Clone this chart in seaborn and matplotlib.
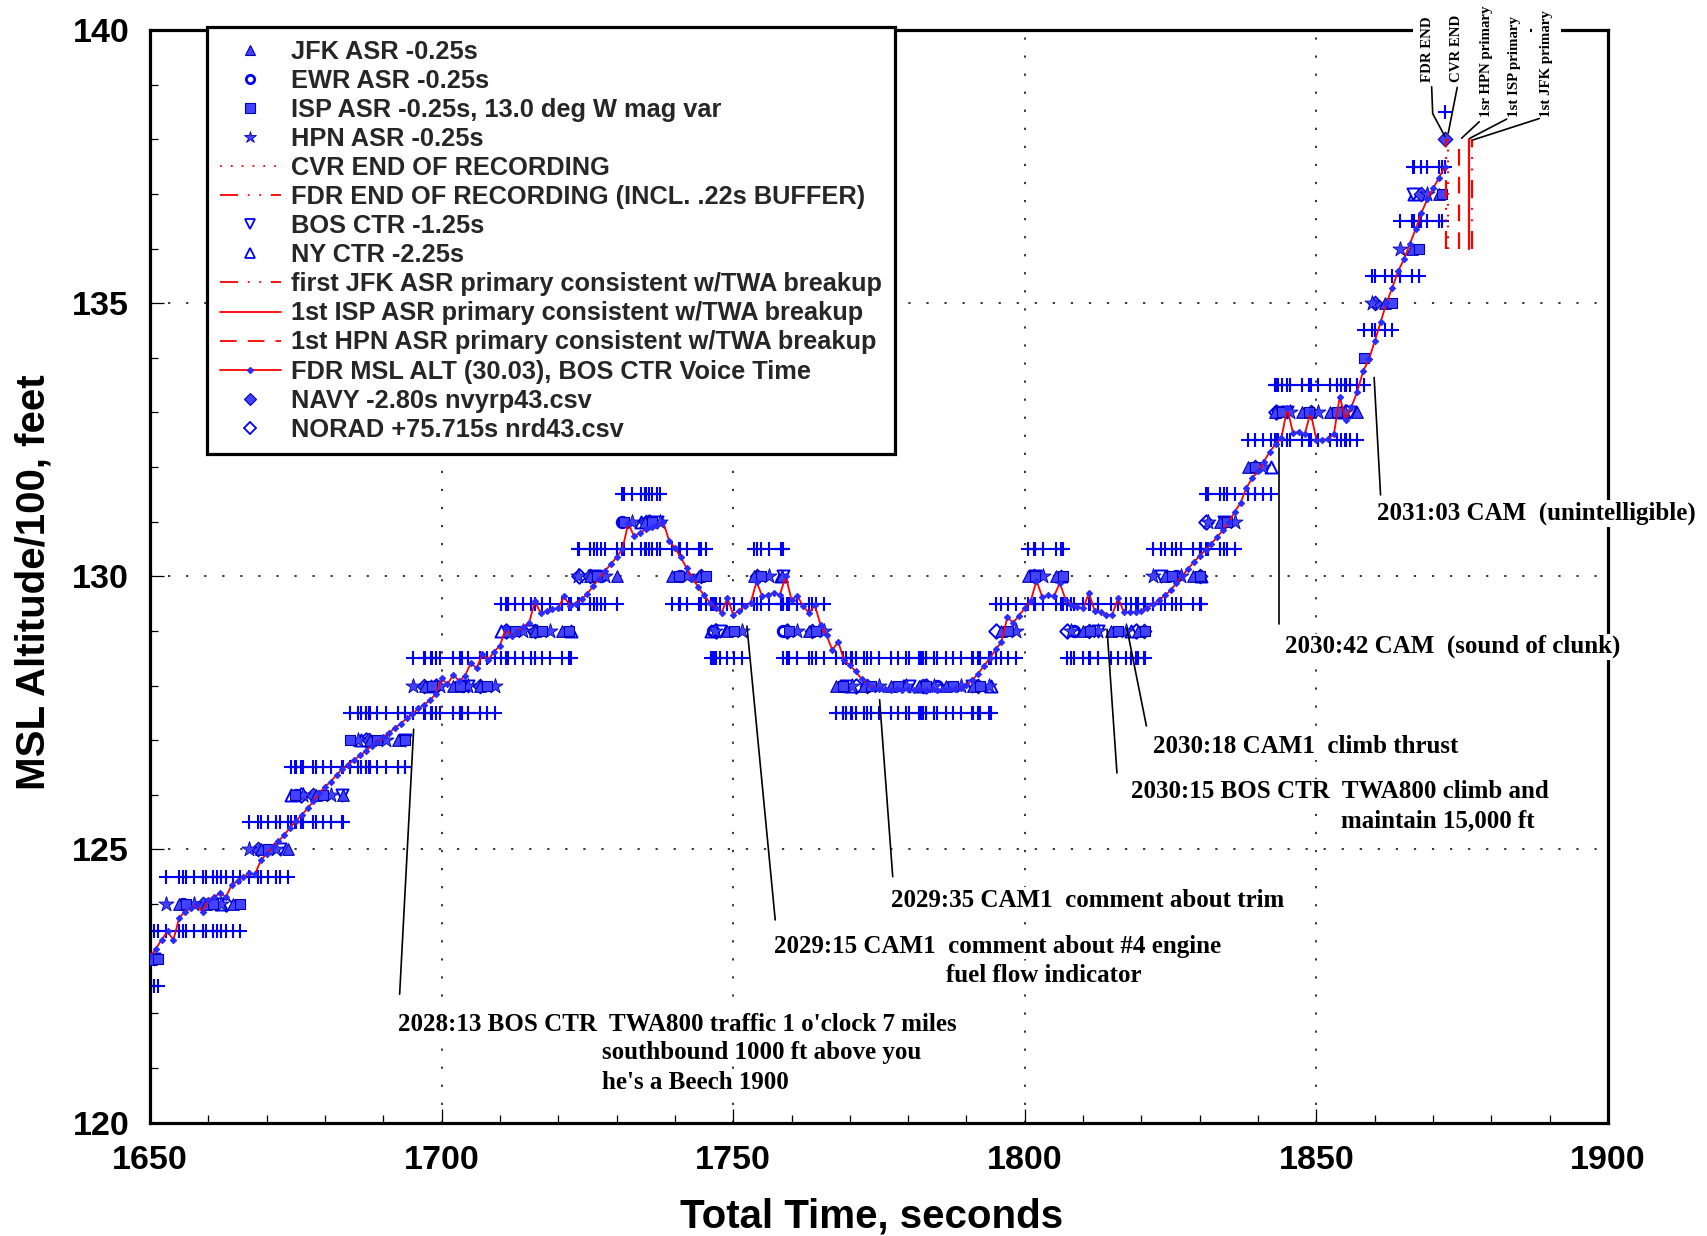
import numpy as np
import pandas as pd
import matplotlib
matplotlib.use("Agg")
import matplotlib.pyplot as plt
from matplotlib.lines import Line2D
from matplotlib.ticker import MultipleLocator
import seaborn as sns

# ---------------------------------------------------------------------------
# FDR MSL altitude (hundreds of feet), one sample per second starting at 1650 s
# ---------------------------------------------------------------------------
fdr_t0 = 1650
fdr_alt = [
    123.04, 123.18, 123.35, 123.50, 123.34, 123.75, 123.86, 123.93, 124.00, 123.85,
    124.08, 124.13, 124.20, 124.13, 124.35, 124.42, 124.50, 124.56, 124.55, 124.80,
    124.92, 125.04, 125.15, 125.26, 125.40, 125.52, 125.63, 125.75, 125.88, 126.03,
    126.15, 126.24, 126.37, 126.47, 126.55, 126.64, 126.72, 126.80, 126.90, 126.97,
    127.05, 127.13, 127.23, 127.30, 127.40, 127.48, 127.58, 127.65, 127.73, 127.85,
    128.13, 128.02, 128.20, 128.08, 128.18, 128.41, 128.32, 128.58, 128.47, 128.62,
    128.73, 129.05, 128.90, 128.98, 129.08, 129.15, 129.54, 129.32, 129.37, 129.40,
    129.42, 129.63, 129.46, 129.50, 129.58, 129.68, 129.83, 129.95, 130.10, 130.22,
    130.35, 130.50, 130.97, 130.73, 130.80, 130.86, 130.90, 130.93, 131.00, 130.65,
    130.52, 130.35, 130.15, 129.97, 129.80, 129.65, 129.52, 129.42, 129.33, 129.60,
    129.30, 129.37, 129.45, 129.52, 129.90, 129.63, 129.66, 129.70, 129.66, 130.00,
    129.57, 129.64, 129.45, 129.33, 129.47, 129.10, 128.92, 128.65, 128.80, 128.47,
    128.37, 128.26, 128.12, 128.02, 127.96, 127.94, 127.93, 127.92, 127.93, 127.92,
    127.93, 127.92, 127.93, 127.92, 127.93, 127.92, 127.93, 127.93, 127.94, 127.96,
    128.01, 128.10, 128.22, 128.36, 128.50, 128.66, 128.80, 129.25, 129.15, 129.28,
    129.42, 129.54, 129.92, 129.62, 129.65, 129.63, 129.88, 129.57, 129.48, 129.44,
    129.42, 129.69, 129.36, 129.34, 129.29, 129.30, 129.60, 129.34, 129.34, 129.34,
    129.36, 129.42, 129.49, 129.56, 129.65, 129.74, 129.88, 130.01, 130.14, 130.26,
    130.38, 130.48, 130.60, 130.72, 130.85, 131.00, 131.18, 131.35, 131.62, 131.80,
    131.93, 132.10, 132.28, 132.42, 132.53, 133.08, 132.62, 132.65, 132.60, 133.00,
    132.50, 132.50, 132.51, 132.60, 133.29, 132.87, 133.10, 133.38, 133.75, 133.97,
    134.30, 134.65, 135.00, 135.28, 135.58, 135.80, 136.08, 136.35, 136.65, 136.90,
    137.10, 137.29, 137.50,
]
fdr_time = np.arange(fdr_t0, fdr_t0 + len(fdr_alt))

# ---------------------------------------------------------------------------
# Radar Mode C returns: time (s) and reported altitude (hundreds of feet)
# ---------------------------------------------------------------------------
jfk_t = [1650.2, 1654.9, 1659.6, 1664.3, 1669.0, 1673.7, 1678.4, 1683.1, 1687.8, 1692.5,
         1697.2, 1701.9, 1706.6, 1711.3, 1716.0, 1720.7, 1725.4, 1730.1, 1734.8, 1739.5,
         1744.2, 1748.9, 1753.6, 1758.3, 1763.0, 1767.7, 1772.4, 1777.1, 1781.8, 1786.5,
         1791.2, 1795.9, 1800.6, 1805.3, 1810.0, 1814.7, 1819.4, 1824.1, 1828.8, 1833.5,
         1838.2, 1842.9, 1847.6, 1852.3, 1857.0, 1861.7, 1866.4, 1871.1]
jfk_alt = [123, 124, 124, 124, 125, 125, 126, 126, 127, 127,
           128, 128, 128, 129, 129, 129, 130, 130, 131, 130,
           130, 129, 130, 130, 129, 128, 128, 128, 128, 128,
           128, 129, 130, 130, 129, 129, 129, 130, 130, 131,
           132, 133, 133, 133, 133, 135, 136, 137]

ewr_t = [1655.7, 1675.0, 1703.5, 1727.4, 1731.0, 1740.9, 1746.6, 1758.6, 1768.9, 1785.0,
         1808.5, 1826.0, 1843.5]
ewr_alt = [124, 126, 128, 130, 131, 130, 129, 129, 128, 128,
           129, 130, 133]

isp_t = [1651.4, 1656.1, 1660.8, 1665.5, 1670.2, 1674.9, 1679.6, 1684.3, 1689.0, 1693.7,
         1698.4, 1703.1, 1707.8, 1712.5, 1717.2, 1721.9, 1726.6, 1731.3, 1736.0, 1740.7,
         1745.4, 1750.1, 1754.8, 1759.5, 1764.2, 1768.9, 1773.6, 1778.3, 1783.0, 1787.7,
         1792.4, 1797.1, 1801.8, 1806.5, 1811.2, 1815.9, 1820.6, 1825.3, 1830.0, 1834.7,
         1839.4, 1844.1, 1848.8, 1853.5, 1858.2, 1862.9, 1867.6, 1871.6]
isp_alt = [123, 124, 124, 124, 125, 126, 126, 127, 127, 127,
           128, 128, 128, 129, 129, 129, 130, 131, 131, 130,
           130, 129, 130, 129, 129, 128, 128, 128, 128, 128,
           128, 129, 130, 130, 129, 129, 129, 130, 130, 131,
           132, 133, 133, 133, 134, 135, 136, 137]

hpn_t = [1652.8, 1657.5, 1662.2, 1666.9, 1671.6, 1676.3, 1681.0, 1685.7, 1690.4, 1695.1,
         1699.8, 1704.5, 1709.2, 1713.9, 1718.6, 1723.3, 1728.0, 1732.7, 1737.4, 1742.1,
         1746.8, 1751.5, 1756.2, 1760.9, 1765.6, 1770.3, 1775.0, 1779.7, 1784.4, 1789.1,
         1793.8, 1798.5, 1803.2, 1807.9, 1812.6, 1817.3, 1822.0, 1826.7, 1831.4, 1836.1,
         1840.8, 1845.5, 1850.2, 1854.9, 1859.6, 1864.3, 1869.0]
hpn_alt = [124, 124, 124, 125, 125, 126, 126, 127, 127, 128,
           128, 128, 128, 129, 129, 130, 130, 131, 131, 130,
           129, 129, 130, 129, 129, 128, 128, 128, 128, 128,
           128, 129, 130, 129, 129, 129, 130, 130, 131, 131,
           132, 133, 133, 133, 135, 136, 137]

bos_t = [1650.6, 1661.4, 1672.2, 1683.0, 1693.8, 1704.6, 1715.4, 1726.2, 1737.0, 1747.8,
         1758.6, 1769.4, 1780.2, 1791.0, 1801.8, 1812.6, 1823.4, 1834.2, 1845.0, 1855.8,
         1866.6]
bos_alt = [123, 124, 125, 126, 127, 128, 129, 130, 131, 129,
           130, 128, 128, 128, 130, 129, 130, 131, 133, 133,
           137]

ny_t = [1662.2, 1674.2, 1686.2, 1698.2, 1710.2, 1722.2, 1734.2, 1746.2, 1758.2, 1770.2,
        1782.2, 1794.2, 1806.2, 1818.2, 1830.2, 1842.2, 1854.2, 1866.8]
ny_alt = [124, 126, 127, 128, 129, 129, 131, 129, 130, 128,
          128, 128, 130, 129, 130, 132, 133, 137]

navy_t = [1659.0, 1668.5, 1678.0, 1687.5, 1697.0, 1706.5, 1716.0, 1725.5, 1735.0, 1744.5,
          1754.0, 1763.5, 1773.0, 1782.5, 1792.0, 1801.5, 1811.0, 1820.5, 1830.0, 1839.5,
          1849.0, 1860.0, 1868.0, 1872.0]
navy_alt = [124, 125, 126, 127, 128, 128, 129, 130, 131, 130,
            130, 129, 128, 128, 128, 130, 129, 129, 130, 132,
            133, 135, 137, 138]

norad_t = [1663.0, 1675.8, 1687.0, 1699.0, 1711.0, 1723.5, 1735.5, 1747.0, 1759.2, 1771.0,
           1783.0, 1795.0, 1807.2, 1819.0, 1831.0, 1843.0, 1855.0]
norad_alt = [124, 126, 127, 128, 129, 130, 131, 129, 129, 128,
             128, 129, 129, 129, 131, 133, 133]

# End-of-recording and first-primary-return event times (s)
cvr_end_t = 1872.6
fdr_end_t = 1872.3
hpn_primary_t = 1874.5
isp_primary_t = 1876.1
jfk_primary_t = 1876.6
event_alt_span = [136.0, 138.0]

# ---------------------------------------------------------------------------
# Styling
# ---------------------------------------------------------------------------
sns.set_theme(style="white")
plt.rcParams.update({
    "font.family": ["Liberation Sans", "DejaVu Sans"],
    "font.weight": "bold",
    "axes.labelweight": "bold",
    "lines.scale_dashes": False,
})
SERIF = ["Liberation Serif", "DejaVu Serif"]

BLUE = "#0000ff"
FILL = "#4242ff"
EDGE = "#0000b4"
RED = "#ff0000"
DASHDOTDOT = (0, (13, 7, 1.3, 7, 1.3, 7))
DOTTED = (0, (1.3, 6.5))
DASHED = (0, (12, 8))

fig = plt.figure(figsize=(17.07, 12.36), dpi=100)
ax = fig.add_axes([0.0879, 0.0918, 0.8541, 0.8839])

sources = [
    # name, times, alts, marker, size, face, edge, lw
    ("NORAD", norad_t, norad_alt, "D", 55, "white", BLUE, 1.4),
    ("NY CTR", ny_t, ny_alt, "^", 75, "white", BLUE, 1.4),
    ("BOS CTR", bos_t, bos_alt, "v", 75, "white", BLUE, 1.4),
    ("EWR", ewr_t, ewr_alt, "o", 55, "white", BLUE, 2.2),
    ("NAVY", navy_t, navy_alt, "D", 55, FILL, EDGE, 0.8),
    ("HPN", hpn_t, hpn_alt, "*", 130, FILL, EDGE, 0.6),
    ("JFK", jfk_t, jfk_alt, "^", 70, FILL, EDGE, 0.8),
    ("ISP", isp_t, isp_alt, "s", 62, FILL, EDGE, 0.8),
]

# +/- 50 ft Mode C resolution bounds of every radar return
all_t = np.concatenate([np.asarray(s[1], float) for s in sources])
all_alt = np.concatenate([np.asarray(s[2], float) for s in sources])
bounds = pd.DataFrame({
    "t": np.concatenate([all_t, all_t]),
    "alt": np.concatenate([all_alt + 0.5, all_alt - 0.5]),
})
sns.scatterplot(data=bounds, x="t", y="alt", marker="+", s=95, color=BLUE,
                linewidth=1.5, ax=ax, legend=False, zorder=2)

for name, t, a, mk, size, face, edge, lw in sources:
    d = pd.DataFrame({"t": t, "alt": a})
    sns.scatterplot(data=d, x="t", y="alt", marker=mk, s=size, facecolor=face,
                    edgecolor=edge, linewidth=lw, ax=ax, legend=False, zorder=3)

fdr = pd.DataFrame({"t": fdr_time, "alt": fdr_alt})
sns.lineplot(data=fdr, x="t", y="alt", color=RED, linewidth=1.3, marker="D",
             markersize=3.2, markerfacecolor="#2b2bff", markeredgecolor="#2b2bff",
             estimator=None, sort=False, ax=ax, legend=False, zorder=4)

# recording end / first primary return markers
ax.plot([cvr_end_t] * 2, event_alt_span, color=RED, lw=1.6, linestyle=DOTTED, zorder=4)
ax.plot([fdr_end_t] * 2, event_alt_span, color=RED, lw=1.6, linestyle=DASHDOTDOT, zorder=4)
ax.plot([hpn_primary_t] * 2, event_alt_span, color=RED, lw=1.6, linestyle=DASHED, zorder=4)
ax.plot([isp_primary_t] * 2, event_alt_span, color=RED, lw=1.6, linestyle="-", zorder=4)
ax.plot([jfk_primary_t] * 2, event_alt_span, color=RED, lw=1.6, linestyle=DASHDOTDOT, zorder=4)

# ---------------------------------------------------------------------------
# Axes
# ---------------------------------------------------------------------------
ax.set_xlim(1650, 1900)
ax.set_ylim(120, 140)
ax.xaxis.set_major_locator(MultipleLocator(50))
ax.xaxis.set_minor_locator(MultipleLocator(10))
ax.yaxis.set_major_locator(MultipleLocator(5))
ax.yaxis.set_minor_locator(MultipleLocator(1))
ax.tick_params(which="both", direction="in", top=False, right=False,
               bottom=True, left=True, color="black", width=0.9)
ax.tick_params(which="major", length=10)
ax.tick_params(which="minor", length=6)
ax.tick_params(axis="x", which="major", labelsize=24.5, pad=16, labelcolor="black")
ax.tick_params(axis="y", which="major", labelsize=24.5, pad=15, labelcolor="black")
ax.grid(True, which="major", color="black", linestyle=(0, (1.6, 11.4)), linewidth=1.1)
ax.set_axisbelow(True)
for sp in ax.spines.values():
    sp.set_visible(True)
    sp.set_color("black")
    sp.set_linewidth(2.3)

ax.set_xlabel("Total Time, seconds", fontsize=29, fontweight="bold", color="black", va="center")
ax.xaxis.set_label_coords(0.5103, 0.0155, transform=fig.transFigure)
ax.set_ylabel("MSL Altitude/100, feet", fontsize=29, fontweight="bold", color="black", va="center")
ax.yaxis.set_label_coords(0.0196, 0.5287, transform=fig.transFigure)

# ---------------------------------------------------------------------------
# Cockpit / ATC event annotations
# ---------------------------------------------------------------------------
note_style = dict(fontsize=18, fontweight="bold", family=SERIF, color="black",
                  ha="left", va="center", zorder=6, clip_on=False)
notes = [
    ("2028:13 BOS CTR  TWA800 traffic 1 o'clock 7 miles", 1692.6, 121.80),
    ("southbound 1000 ft above you", 1727.5, 121.28),
    ("he's a Beech 1900", 1727.5, 120.74),
    ("2029:15 CAM1  comment about #4 engine", 1757.0, 123.23),
    ("fuel flow indicator", 1786.5, 122.69),
    ("2029:35 CAM1  comment about trim", 1777.0, 124.07),
    ("2030:15 BOS CTR  TWA800 climb and", 1818.2, 126.06),
    ("maintain 15,000 ft", 1854.3, 125.52),
    ("2030:18 CAM1  climb thrust", 1822.0, 126.88),
    ("2030:42 CAM  (sound of clunk)", 1844.55, 128.71),
    ("2031:03 CAM  (unintelligible)", 1860.4, 131.15),
]
for txt, x, y in notes:
    ax.text(x, y, txt, bbox=dict(facecolor="white", edgecolor="none", pad=1.0), **note_style)

leaders = [
    [(1692.8, 122.35), (1695.2, 127.2)],
    [(1757.2, 123.71), (1752.35, 129.09)],
    [(1777.35, 124.5), (1775.1, 127.74)],
    [(1815.8, 126.4), (1814.1, 129.03)],
    [(1820.85, 127.26), (1817.5, 129.05)],
    [(1843.6, 129.13), (1843.6, 132.34)],
    [(1861.0, 131.49), (1859.9, 133.64)],
    [(1869.76, 138.96), (1869.94, 138.47), (1872.05, 138.05)],
    [(1874.15, 138.95), (1872.6, 138.11)],
    [(1877.92, 138.32), (1874.9, 138.02)],
    [(1882.63, 138.37), (1876.34, 138.02)],
    [(1888.22, 138.38), (1876.9, 137.99)],
]
for pts in leaders:
    xs, ys = zip(*pts)
    ax.plot(xs, ys, color="black", lw=1.2, zorder=7, clip_on=False)

top_labels = [
    ("FDR END", 1869.1, 139.05),
    ("CVR END", 1874.0, 139.05),
    ("1sr HPN primary", 1879.1, 138.41),
    ("1st ISP primary", 1884.05, 138.41),
    ("1st JFK primary", 1889.5, 138.41),
]
for txt, x, y in top_labels:
    ax.text(x, y, txt, rotation=90, ha="center", va="bottom", fontsize=10.7,
            fontweight="bold", family=SERIF, color="black", zorder=6, clip_on=False,
            bbox=dict(boxstyle="square,pad=0.55", facecolor="white", edgecolor="none"))

# ---------------------------------------------------------------------------
# Legend
# ---------------------------------------------------------------------------
def mk(marker, face, edge, ms, mew=0.8):
    return Line2D([], [], linestyle="none", marker=marker, markersize=ms,
                  markerfacecolor=face, markeredgecolor=edge, markeredgewidth=mew)

handles = [
    mk("^", FILL, EDGE, 6.5),
    mk("o", "white", BLUE, 6.0, 2.0),
    mk("s", FILL, EDGE, 7.0),
    mk("*", FILL, EDGE, 9.0, 0.6),
    Line2D([], [], color=RED, lw=1.3, linestyle=DOTTED),
    Line2D([], [], color=RED, lw=1.3, linestyle=DASHDOTDOT),
    mk("v", "white", BLUE, 7.0, 1.3),
    mk("^", "white", BLUE, 7.0, 1.3),
    Line2D([], [], color=RED, lw=1.3, linestyle=DASHDOTDOT),
    Line2D([], [], color=RED, lw=1.3, linestyle="-"),
    Line2D([], [], color=RED, lw=1.3, linestyle=DASHED),
    Line2D([], [], color=RED, lw=1.3, linestyle="-", marker="D", markersize=3,
           markerfacecolor="#2b2bff", markeredgecolor="#2b2bff"),
    mk("D", FILL, EDGE, 6.0),
    mk("D", "white", BLUE, 6.5, 1.3),
]
labels = [
    "JFK ASR -0.25s",
    "EWR ASR -0.25s",
    "ISP ASR -0.25s, 13.0 deg W mag var",
    "HPN ASR -0.25s",
    "CVR END OF RECORDING",
    "FDR END OF RECORDING (INCL. .22s BUFFER)",
    "BOS CTR -1.25s",
    "NY CTR -2.25s",
    "first JFK ASR primary consistent w/TWA breakup",
    "1st ISP ASR primary consistent w/TWA breakup",
    "1st HPN ASR primary consistent w/TWA breakup",
    "FDR MSL ALT (30.03), BOS CTR Voice Time",
    "NAVY -2.80s nvyrp43.csv",
    "NORAD +75.715s nrd43.csv",
]
leg = ax.legend(handles, labels, loc="upper left",
                bbox_to_anchor=(0.1213, 0.9782), bbox_transform=fig.transFigure,
                borderaxespad=0, numpoints=1, handlelength=2.4, handletextpad=0.4,
                borderpad=0.5, labelspacing=0.2, fancybox=False, framealpha=1,
                prop={"family": ["Liberation Sans", "DejaVu Sans"], "weight": "bold", "size": 18.3})
leg.get_frame().set_edgecolor("black")
leg.get_frame().set_linewidth(2.3)
leg.set_zorder(8)

fig.savefig("out.png", dpi=100, facecolor="white")
